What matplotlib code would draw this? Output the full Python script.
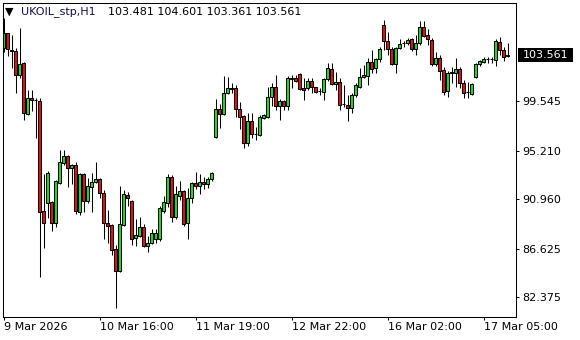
import matplotlib
matplotlib.use("Agg")
import matplotlib.pyplot as plt
from matplotlib.patches import Rectangle

# H1 bars (open, high, low, close)
opens = [104.16, 105.47, 103.98, 103.92, 101.79, 102.85, 98.38, 99.78, 99.63, 99.54,
         89.91, 90.63, 90.67, 88.83, 92.39, 94.14, 94.75, 93.65, 93.94, 89.84,
         93.12, 90.78, 92.04, 92.42, 92.71, 91.51, 88.88, 88.68, 86.55, 84.68,
         88.68, 91.31, 90.78, 87.52, 87.74, 88.48, 86.87, 87.08, 87.46, 87.46,
         89.93, 90.58, 92.91, 89.41, 91.22, 91.66, 88.83, 91.02, 92.39, 92.12,
         92.42, 92.25, 92.68, 96.36, 98.82, 98.38, 100.22, 100.66, 100.66, 98.82,
         98.23, 95.84, 97.79, 96.63, 96.57, 98.08, 98.17, 99.87, 100.74, 99.13,
         99.57, 99.13, 101.53, 101.53, 101.88, 100.66, 100.66, 101.32, 100.74, 100.42,
         100.36, 101.44, 102.32, 101.01, 101.18, 99.25, 99.19, 98.96, 100.07, 100.80,
         101.62, 101.73, 102.99, 102.41, 103.22, 106.20, 104.83, 104.10, 102.76, 104.16,
         104.60, 104.60, 104.95, 104.07, 104.60, 106.05, 105.32, 104.89, 102.76, 103.28,
         102.26, 100.45, 102.02, 102.02, 102.35, 101.15, 100.36, 100.16, 101.62, 102.76,
         102.99, 103.22, 103.20, 103.13, 104.74, 104.01, 103.481]
highs = [106.79, 105.53, 105.32, 104.16, 105.91, 102.99, 100.51, 100.51, 99.78, 99.78,
         93.12, 93.41, 90.78, 92.62, 95.25, 95.25, 94.80, 94.02, 94.23, 93.21,
         93.21, 92.77, 93.21, 94.23, 92.82, 91.75, 89.99, 88.74, 86.93, 92.10,
         91.75, 91.60, 90.87, 89.21, 89.36, 88.77, 87.72, 88.33, 88.33, 90.35,
         91.22, 93.15, 93.06, 92.10, 92.53, 91.75, 91.90, 92.47, 93.30, 93.12,
         92.91, 92.86, 93.32, 99.69, 99.28, 101.73, 101.62, 101.09, 100.94, 99.48,
         98.30, 98.52, 98.47, 97.29, 98.32, 98.41, 100.80, 101.15, 101.82, 99.70,
         99.63, 101.73, 101.82, 101.82, 101.97, 101.53, 101.53, 101.56, 100.80, 100.66,
         101.53, 102.85, 102.85, 102.11, 101.53, 100.94, 100.07, 100.22, 101.15, 102.41,
         102.70, 103.28, 104.01, 103.28, 104.30, 106.64, 105.61, 104.30, 104.30, 104.95,
         104.80, 105.04, 105.04, 105.32, 106.58, 106.55, 105.82, 105.04, 103.86, 103.57,
         102.55, 102.20, 102.55, 103.28, 102.55, 101.38, 101.23, 101.09, 102.90, 103.13,
         103.42, 103.42, 103.42, 104.95, 105.12, 104.30, 104.601]
lows = [103.86, 103.51, 102.41, 100.22, 101.53, 97.88, 98.32, 98.69, 96.27, 84.10,
        86.64, 89.27, 88.18, 88.48, 92.25, 93.94, 92.04, 92.27, 89.64, 89.56,
        89.84, 90.63, 89.84, 92.33, 91.02, 87.43, 87.08, 86.05, 81.38, 84.59,
        88.59, 90.35, 86.93, 86.87, 87.65, 86.73, 86.34, 87.02, 87.13, 87.28,
        89.76, 90.23, 88.97, 89.21, 90.87, 88.62, 87.43, 90.63, 91.83, 91.37,
        91.81, 91.95, 92.56, 96.30, 97.15, 98.32, 100.16, 100.22, 98.12, 97.06,
        95.40, 95.60, 96.33, 96.13, 96.50, 97.94, 98.08, 99.13, 98.75, 97.88,
        98.75, 98.75, 100.68, 101.23, 100.51, 99.63, 100.51, 100.27, 100.27, 100.07,
        99.63, 101.32, 100.95, 100.51, 98.75, 99.04, 97.82, 98.46, 99.92, 100.66,
        101.53, 100.94, 101.97, 101.97, 102.96, 104.01, 103.57, 102.70, 101.97, 104.07,
        104.30, 104.45, 103.95, 103.57, 104.45, 105.12, 104.45, 102.61, 102.61, 101.38,
        100.07, 99.92, 101.09, 100.80, 100.66, 99.78, 99.78, 100.07, 101.53, 102.61,
        102.85, 102.85, 102.90, 102.61, 103.57, 103.07, 103.361]
closes = [105.47, 104.07, 103.90, 101.79, 102.78, 98.46, 99.78, 99.63, 99.60, 89.84,
          88.83, 93.21, 88.83, 92.53, 94.17, 94.75, 93.65, 93.94, 89.91, 93.12,
          90.78, 92.10, 92.47, 92.71, 91.46, 88.88, 88.59, 86.49, 84.68, 88.74,
          91.37, 91.07, 87.43, 87.80, 88.48, 86.87, 87.08, 87.95, 87.95, 90.14,
          90.67, 92.91, 89.41, 91.37, 91.69, 88.74, 91.02, 92.33, 92.12, 92.42,
          92.25, 92.71, 93.21, 98.82, 98.38, 100.22, 100.66, 100.63, 98.82, 98.12,
          95.89, 97.79, 96.63, 96.63, 98.12, 98.32, 99.87, 100.74, 99.13, 99.57,
          99.13, 101.53, 101.50, 101.32, 100.57, 100.51, 101.32, 100.74, 100.36, 100.44,
          101.44, 102.41, 101.01, 101.23, 99.19, 99.28, 98.96, 100.07, 100.94, 101.62,
          101.82, 102.99, 102.39, 103.22, 104.07, 104.83, 104.07, 102.76, 104.16, 104.54,
          104.60, 104.89, 104.07, 104.60, 106.05, 105.27, 104.97, 102.76, 103.28, 102.20,
          100.36, 102.02, 102.11, 102.35, 101.09, 100.27, 100.33, 101.03, 102.78, 103.05,
          103.22, 103.20, 103.24, 104.83, 104.01, 103.42, 103.561]

date_ticks = [0, 24, 48, 72, 96, 120]
date_labels = ["9 Mar 2026", "10 Mar 16:00", "11 Mar 19:00", "12 Mar 22:00",
               "16 Mar 02:00", "17 Mar 05:00"]
price_ticks = [99.545, 95.210, 90.960, 86.625, 82.375]
last_price = 103.561

bull = "#22dd22"
bear = "#e01414"

fig = plt.figure(figsize=(5.8, 3.4), dpi=100)
ax = fig.add_axes([3 / 580, 23.5 / 340, 513 / 580, 313.5 / 340])

for i, (o, h, l, c) in enumerate(zip(opens, highs, lows, closes)):
    ax.plot([i, i], [l, h], color="black", lw=0.75, solid_capstyle="butt", zorder=1)
    lo, hi = min(o, c), max(o, c)
    col = bull if c >= o else bear
    ax.add_patch(Rectangle((i - 0.26, lo), 0.52, hi - lo, facecolor=col,
                           edgecolor="black", lw=0.75, zorder=2))

ax.set_xlim(-0.125, 128.125)
ax.set_ylim(80.67, 108.13)

ax.yaxis.tick_right()
ax.set_yticks(price_ticks)
ax.set_yticklabels([f"{p:.3f}" for p in price_ticks])
ax.set_xticks(date_ticks)
ax.set_xticklabels(date_labels, ha="left")
ax.tick_params(axis="both", length=2.5, width=0.75, color="black",
               labelsize=8, labelcolor="black")
ax.tick_params(axis="x", pad=1.5)
ax.tick_params(axis="y", pad=2)
for s in ax.spines.values():
    s.set_linewidth(0.75)
    s.set_color("black")

# current price marker on the price scale
fig.add_artist(Rectangle((517.5 / 580, 1 - 61.7 / 340), 55.5 / 580, 13.4 / 340,
                         transform=fig.transFigure, facecolor="black",
                         edgecolor="none", clip_on=False))
fig.text(522.5 / 580, 1 - 55.2 / 340, f"{last_price:.3f}", color="white",
         fontsize=8, va="center", ha="left")

# header
fig.text(4.5 / 580, 1 - 12 / 340, "\u25bc", fontsize=8, va="center", ha="left")
fig.text(21 / 580, 1 - 12 / 340, "UKOIL_stp,H1", fontsize=8, va="center",
         ha="left", color="#10104a")
fig.text(108 / 580, 1 - 12 / 340,
         f"{opens[-1]:.3f} {highs[-1]:.3f} {lows[-1]:.3f} {closes[-1]:.3f}",
         fontsize=8, va="center", ha="left", color="black")

fig.savefig("out.png", dpi=100, facecolor="white")
